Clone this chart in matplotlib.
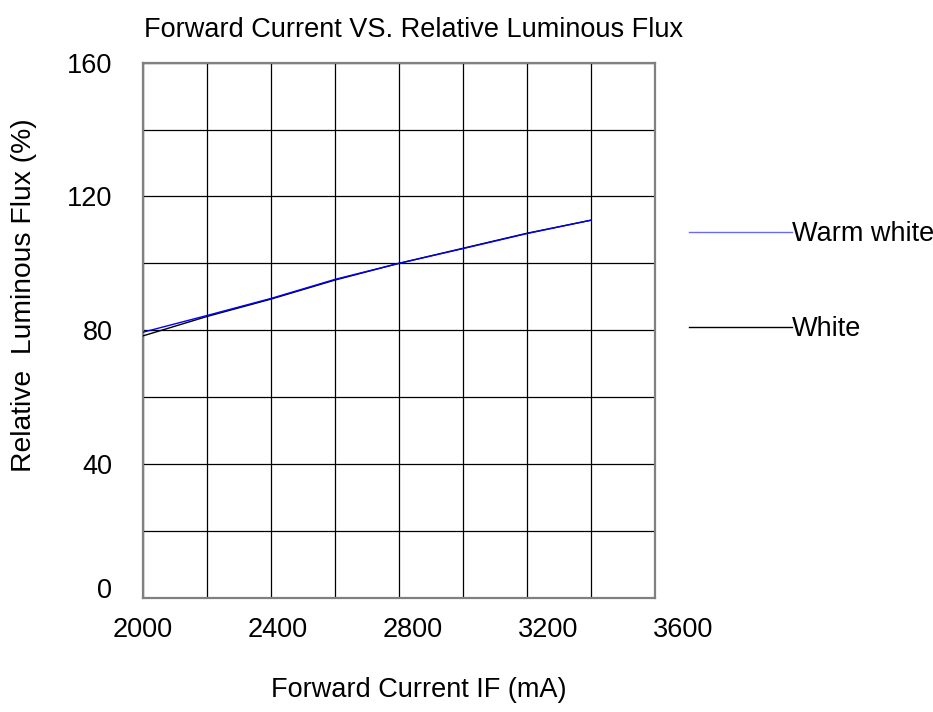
import matplotlib.pyplot as plt
from matplotlib.transforms import ScaledTranslation

plt.rcParams['font.family'] = ['Liberation Sans', 'DejaVu Sans']

# values
current_ma = [2000, 2200, 2400, 2600, 2800, 3000, 3200, 3400]
warm_white = [79.4, 84.4, 89.5, 95.2, 100.0, 104.4, 108.9, 112.9]
white = [78.3, 84.1, 89.3, 95.0, 100.0, 104.5, 109.0, 112.9]

x_ticks = [2000, 2400, 2800, 3200, 3600]
y_ticks = [0, 40, 80, 120, 160]

W, H, DPI = 933, 712, 100
FS = 19.5
fig = plt.figure(figsize=(W / DPI, H / DPI), dpi=DPI)
ax = fig.add_axes([143 / W, 1 - 597.7 / H, (655 - 143) / W, (597.7 - 62.7) / H])

ax.plot(current_ma, white, color="black", lw=1.0, label="White", zorder=3)
ax.plot(current_ma, warm_white, color="#0000ff", lw=1.0, label="Warm white", zorder=4)

ax.set_xlim(2000, 3600)
ax.set_ylim(0, 160)
ax.set_xticks(range(2000, 3601, 200), minor=True)
ax.set_yticks(range(0, 161, 20), minor=True)
ax.set_xticks(x_ticks)
ax.set_yticks(y_ticks)
ax.grid(True, which="both", color="black", lw=0.9)
ax.tick_params(which="both", length=0)
ax.tick_params(axis="x", pad=14, labelsize=FS)
ax.tick_params(axis="y", pad=22, labelsize=FS)
for s in ax.spines.values():
    s.set_color("#808080")
    s.set_linewidth(1.6)

# labels in the source sit a bit right of their gridlines
for i, lab in enumerate(ax.get_xticklabels()):
    lab.set_transform(lab.get_transform() + ScaledTranslation(i * 7 / DPI, 0, fig.dpi_scale_trans))
ylabs = ax.get_yticklabels()
ylabs[0].set_transform(ylabs[0].get_transform() + ScaledTranslation(0, 10 / DPI, fig.dpi_scale_trans))

fig.text(144 / W, 1 - 30 / H, "Forward Current VS. Relative Luminous Flux",
         ha="left", va="center", fontsize=FS)
fig.text(419 / W, 1 - 690 / H, "Forward Current IF (mA)", ha="center", va="center", fontsize=FS)
fig.text(24 / W, 1 - 295 / H, "Relative  Luminous Flux (%)", ha="center", va="center",
         rotation=90, fontsize=20.3)

handles, labels = ax.get_legend_handles_labels()
leg = fig.legend(handles[::-1], labels[::-1], loc="upper left",
                 bbox_to_anchor=(689 / W, 1 - 221 / H), frameon=False,
                 fontsize=FS, handlelength=3.8, handletextpad=0.0,
                 labelspacing=2.55, borderpad=0, borderaxespad=0)
leg.get_lines()[0].set_color("#6b6bf0")

fig.savefig("out.png", dpi=DPI)
